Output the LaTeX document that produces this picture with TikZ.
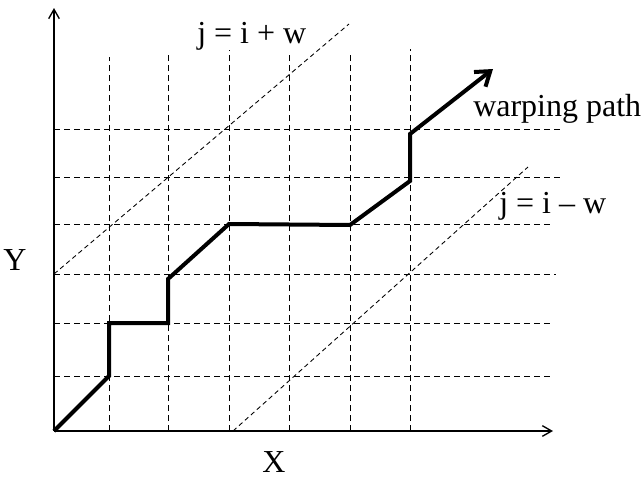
\documentclass[tikz,border=0pt]{standalone}
\usepackage{fontspec}
\setmainfont{Liberation Serif}
\usetikzlibrary{arrows.meta}

\begin{document}
\begin{tikzpicture}[x=0.75pt, y=-0.75pt,
    font=\fontsize{24}{28}\selectfont,
    rejilla/.style={line width=0.6pt, dash pattern=on 4.5pt off 3pt},
    banda/.style={line width=0.65pt, dash pattern=on 3.5pt off 2.5pt},
    etiqueta/.style={inner sep=0pt, anchor=base west}]
    \useasboundingbox (0,0) rectangle (644,479);

    % Rejilla
    \foreach \xx/\top in {109/57, 168/53, 229/50, 289/51, 350/52, 410/49}
        \draw[rejilla] (\xx,431) -- (\xx,\top);
    \foreach \yy/\fin in {376/553, 323/553, 274/556, 224/553, 177/560, 129/563}
        \draw[rejilla] (54,\yy) -- (\fin,\yy);

    % Bandas j = i + w y j = i - w
    \coordinate (sup0) at (54,274);
    \coordinate (sup1) at (349,24);
    \coordinate (inf0) at (233,431);
    \coordinate (inf1) at (528,167);
    \draw[banda] (sup0) -- (sup1);
    \draw[banda] (inf0) -- (inf1);
    \node[etiqueta] (lsup) at (197,43) {j = i + w};
    \node[etiqueta] (linf) at (499,213) {j = i -- w};

    % Ejes coordenados
    \coordinate (O) at (54,431);
    \coordinate (xfin) at (553,431);
    \coordinate (yfin) at (54,8);
    \draw[line width=1pt, -{Straight Barb[length=7pt, width=8pt]}] (O) -- (xfin);
    \draw[line width=1pt, -{Straight Barb[length=7pt, width=8pt]}] (O) -- (yfin);
    \node[inner sep=0pt, anchor=base] (ejex) at (274,472) {X};
    \node[inner sep=0pt, anchor=base] (ejey) at (15,270) {Y};

    % Camino de alineamiento
    \coordinate (p1) at (109,376);
    \coordinate (p2) at (109,323);
    \coordinate (p3) at (168,323);
    \coordinate (p4) at (168,279);
    \coordinate (p5) at (229,224);
    \coordinate (p6) at (350,225);
    \coordinate (p7) at (410,181);
    \coordinate (p8) at (410,134);
    \coordinate (pfin) at (493,69);
    \draw[line width=3pt, line join=miter, -{Straight Barb[length=10pt, width=14pt]}]
        (O) -- (p1) -- (p2) -- (p3) -- (p4) -- (p5) -- (p6) -- (p7) -- (p8) -- (pfin);
    \node[etiqueta] (lcamino) at (473,116) {warping path};
\end{tikzpicture}
\end{document}
